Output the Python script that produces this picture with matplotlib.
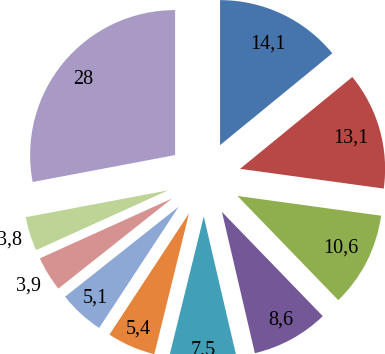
import numpy as np
import matplotlib.pyplot as plt

values = [14.1, 13.1, 10.6, 8.6, 7.5, 5.4, 5.1, 3.9, 3.8, 28]
labels = ['14,1', '13,1', '10,6', '8,6', '7,5', '5,4', '5,1', '3,9', '3,8', '28']
colors = ['#4675AE', '#B74845', '#8FAF4E', '#735797', '#429FB8', '#E5843A',
          '#8EA8D6', '#D59290', '#BDD496', '#A89AC4']

# label distance (fraction of radius) for each slice
label_dist = [0.77, 0.79, 0.80, 0.85, 0.92, 0.87, 0.85, 1.16, 1.15, 0.82]

W, H = 385, 354
radius = 145
center = (204, H - 179)

fig = plt.figure(figsize=(W / 100, H / 100), dpi=100)
ax = fig.add_axes([0, 0, 1, 1])

wedges, texts = ax.pie(values, labels=labels, colors=colors, startangle=90,
                       counterclock=False, radius=radius, center=center,
                       explode=[37.5] * len(values), labeldistance=0.8,
                       wedgeprops=dict(linewidth=0),
                       textprops=dict(family='Liberation Serif', fontsize=14.5,
                                      color='black'))

for w, t, d in zip(wedges, texts, label_dist):
    thetam = np.deg2rad((w.theta1 + w.theta2) / 2)
    cx, cy = w.center
    t.set_position((cx + d * radius * np.cos(thetam), cy + d * radius * np.sin(thetam)))
    t.set_ha('center')
    t.set_va('center')

ax.set_xlim(0, W)
ax.set_ylim(0, H)
ax.set_aspect('equal')
ax.axis('off')

fig.savefig('out.png', dpi=100)
